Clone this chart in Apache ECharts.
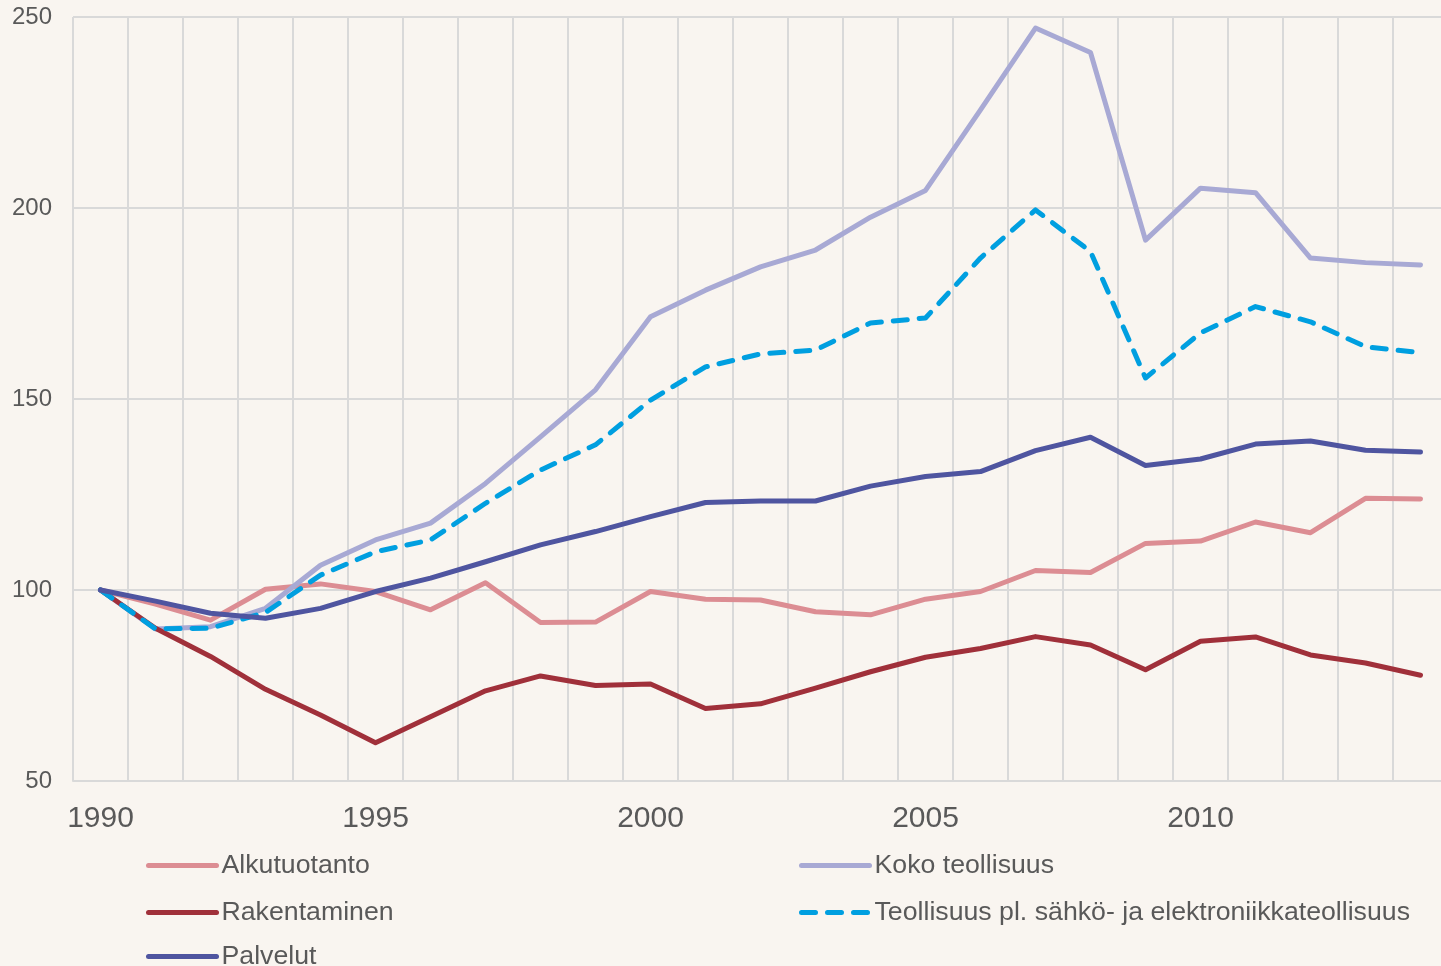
<!DOCTYPE html>
<html>
<head>
<meta charset="utf-8">
<script src="https://cdn.jsdelivr.net/npm/echarts@6/dist/echarts.min.js"></script>
<style>
  html, body { margin: 0; padding: 0; background: #f9f5f0; }
  #container { width: 1441px; height: 966px; }
</style>
</head>
<body>
<div id="container"></div>
<script>
// x 轴年份
const years = ['1990', '1991', '1992', '1993', '1994', '1995', '1996', '1997', '1998', '1999',
  '2000', '2001', '2002', '2003', '2004', '2005', '2006', '2007', '2008', '2009',
  '2010', '2011', '2012', '2013', '2014'];

// 各系列数据 (1990 = 100)
const alkutuotanto = [100, 96.3, 92.1, 100.2, 101.6, 99.6, 94.8, 101.9, 91.5, 91.6,
  99.6, 97.6, 97.4, 94.3, 93.5, 97.6, 99.6, 105.1, 104.6, 112.2,
  112.8, 117.8, 115, 124, 123.8];
const kokoTeollisuus = [100, 89.8, 90.4, 95.2, 106.5, 113.1, 117.5, 127.9, 140.1, 152.4,
  171.5, 178.5, 184.6, 189, 197.6, 204.6, 225.7, 247.1, 240.7, 191.6,
  205.2, 204, 186.9, 185.7, 185.1];
const rakentaminen = [100, 90, 82.6, 74, 67.3, 60, 66.8, 73.6, 77.5, 75,
  75.4, 69, 70.2, 74.3, 78.6, 82.4, 84.7, 87.8, 85.6, 79.1,
  86.6, 87.7, 83, 80.9, 77.7];
const teollisuusPl = [100, 89.8, 90, 94.1, 103.9, 110, 113.1, 122.7, 131.4, 138,
  149.7, 158.4, 161.8, 162.8, 169.9, 171.2, 186.9, 199.5, 188.6, 155.5,
  167.3, 174.2, 170.2, 163.7, 162.1];
const palvelut = [100, 97.1, 93.9, 92.6, 95.2, 99.6, 103.1, 107.4, 111.8, 115.3,
  119.2, 122.9, 123.3, 123.3, 127.2, 129.7, 131, 136.5, 140, 132.6,
  134.3, 138.2, 139, 136.6, 136.1];

// y 轴刻度
const yMin = 50;
const yMax = 250;
const yStep = 50;

const fontFamily = "'Liberation Sans', Arial, sans-serif";
const textColor = '#595959';
const gridColor = '#d9d9d9';

// 系列配置 (绘制顺序)
const seriesDefs = [
  { name: 'Alkutuotanto', data: alkutuotanto, color: '#dc8d93', type: 'solid' },
  { name: 'Koko teollisuus', data: kokoTeollisuus, color: '#a8a9d4', type: 'solid' },
  { name: 'Rakentaminen', data: rakentaminen, color: '#a0303a', type: 'solid' },
  { name: 'Teollisuus pl. sähkö- ja elektroniikkateollisuus', data: teollisuusPl, color: '#009fe0', type: [14, 12] },
  { name: 'Palvelut', data: palvelut, color: '#4f55a0', type: 'solid' }
];

// 图例公共配置
function legendBase(left, top, names) {
  return {
    orient: 'vertical',
    left: left,
    top: top,
    padding: 0,
    itemWidth: 68,
    itemHeight: 26,
    itemGap: 20,
    itemStyle: { opacity: 0 },
    lineStyle: { width: 5, cap: 'round' },
    textStyle: { fontFamily: fontFamily, fontSize: 26.7, color: textColor },
    data: names
  };
}

const myChart = echarts.init(document.getElementById('container'));

const option = {
  backgroundColor: '#f9f5f0',
  animation: false,
  grid: {
    left: 73,
    width: 1375,
    top: 17,
    bottom: 185,
    outerBoundsMode: 'none'
  },
  legend: [
    legendBase(146, 852, ['Alkutuotanto', 'Rakentaminen']),
    legendBase(146, 943, ['Palvelut']),
    legendBase(799, 852, ['Koko teollisuus', 'Teollisuus pl. sähkö- ja elektroniikkateollisuus'])
  ],
  xAxis: {
    type: 'category',
    data: years,
    boundaryGap: true,
    axisLine: { show: true, lineStyle: { color: gridColor, width: 2 } },
    axisTick: { show: false },
    axisLabel: {
      interval: 4,
      margin: 23,
      fontFamily: fontFamily,
      fontSize: 30,
      color: textColor
    },
    splitLine: {
      show: true,
      interval: 0,
      lineStyle: { color: gridColor, width: 2 }
    }
  },
  yAxis: {
    type: 'value',
    min: yMin,
    max: yMax,
    interval: yStep,
    axisLine: { show: false },
    axisTick: { show: false },
    axisLabel: {
      margin: 21,
      fontFamily: fontFamily,
      fontSize: 24,
      color: textColor
    },
    splitLine: { lineStyle: { color: gridColor, width: 2 } }
  },
  series: seriesDefs.map(s => ({
    name: s.name,
    type: 'line',
    data: s.data,
    symbol: 'none',
    color: s.color,
    lineStyle: {
      color: s.color,
      width: 5,
      type: s.type,
      cap: 'round',
      join: 'round'
    }
  }))
};

myChart.setOption(option);
</script>
</body>
</html>
